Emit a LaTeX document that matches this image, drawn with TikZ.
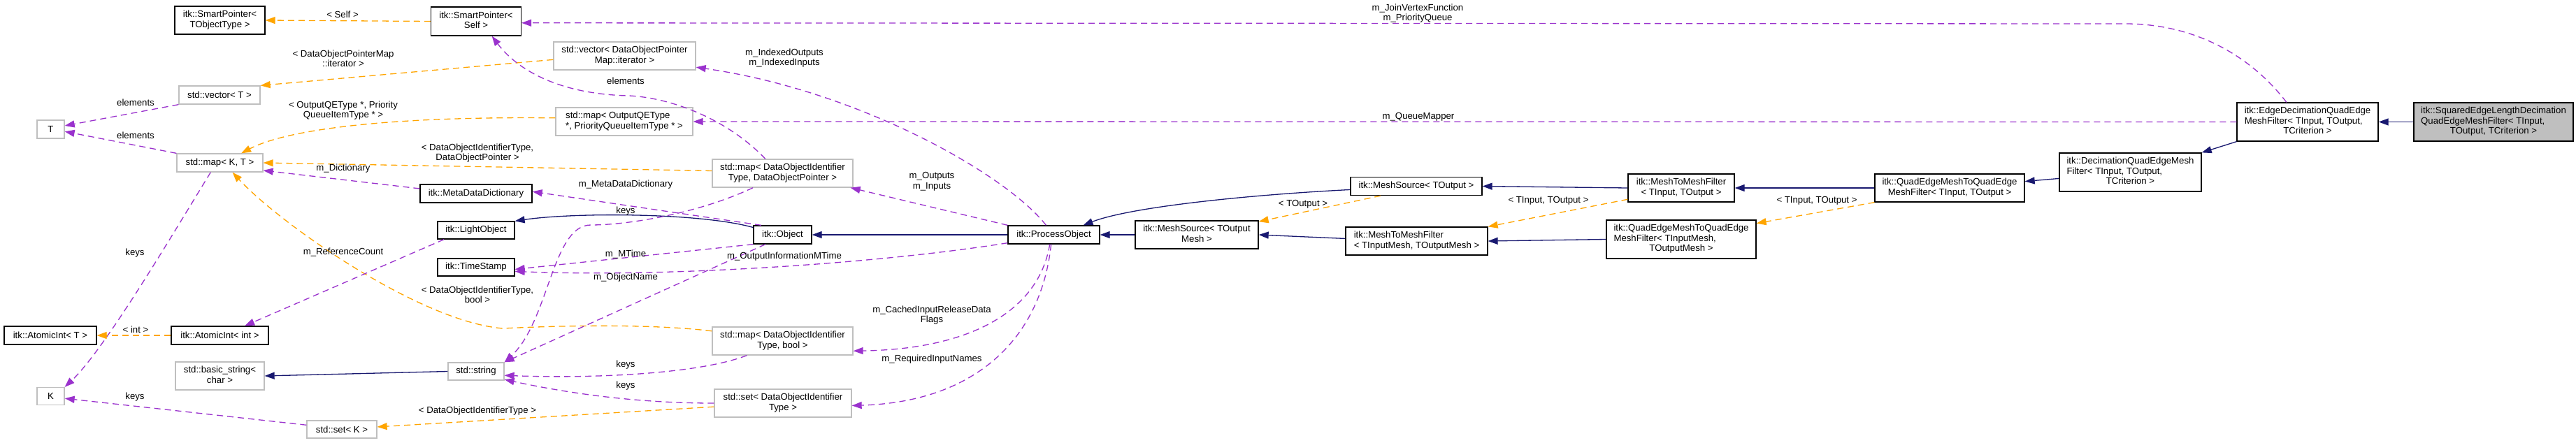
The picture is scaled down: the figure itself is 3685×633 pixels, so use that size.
\documentclass[tikz,border=0pt]{standalone}
\usepackage{fontspec}
\setmainfont{Liberation Sans}
\usetikzlibrary{arrows.meta}
\definecolor{inhc}{HTML}{191970}
\definecolor{usec}{HTML}{9A32CD}
\definecolor{tmplc}{HTML}{FFA500}
\definecolor{extgray}{HTML}{BFBFBF}
\newcommand{\LL}[2]{\begin{tabular}{@{}l@{}}#1\\\multicolumn{1}{@{}c@{}}{#2}\end{tabular}}
\begin{document}
\begin{tikzpicture}[x=1pt,y=-1pt,
  every node/.style={font=\fontsize{13.2}{14.5}\selectfont, inner sep=0pt},
  sz/.style 2 args={minimum width=#1pt, minimum height=#2pt},
  clsbox/.style={rectangle, draw=black, line width=1.3pt, fill=white},
  extbox/.style={rectangle, draw=extgray, line width=1.3pt, fill=white},
  curbox/.style={rectangle, draw=black, line width=1.3pt, fill=extgray},
  lbl/.style={align=center},
  tip/.style={-{Triangle[length=14pt,width=10pt]}},
  inhline/.style={color=inhc, line width=1.3pt, tip},
  useline/.style={color=usec, line width=1.3pt, dash pattern=on 9pt off 6pt, tip},
  tmplline/.style={color=tmplc, line width=1.3pt, dash pattern=on 9pt off 6pt, tip}]
\fill[white] (0,0) rectangle (3685,633);
\useasboundingbox (0,0) rectangle (3685,633);
% nodes
\node[clsbox, sz={129}{40}] (spT) at (314.5,29) {\LL{itk::SmartPointer<}{TObjectType >}};
\node[clsbox, sz={129}{41}] (spS) at (681,30.5) {\LL{itk::SmartPointer<}{Self >}};
\node[extbox, sz={116}{26}] (vecT) at (314,136) {std::vector< T >};
\node[extbox, sz={203}{40}] (vecD) at (893.5,80) {\LL{std::vector< DataObjectPointer}{Map::iterator >}};
\node[extbox, sz={39}{26}] (T) at (72.5,185) {T};
\node[extbox, sz={196}{40}] (mapQ) at (893,174) {\LL{std::map< OutputQEType}{*, PriorityQueueItemType * >}};
\node[extbox, sz={123}{26}] (mapKT) at (314.5,233) {std::map< K, T >};
\node[extbox, sz={201}{40}] (mapDP) at (1119.5,248) {\LL{std::map< DataObjectIdentifier}{Type, DataObjectPointer >}};
\node[clsbox, sz={160}{26}] (mdd) at (681,277) {itk::MetaDataDictionary};
\node[clsbox, sz={110}{25}] (light) at (681,329.5) {itk::LightObject};
\node[clsbox, sz={83}{26}] (obj) at (1119.5,336) {itk::Object};
\node[clsbox, sz={110}{25}] (ts) at (681,382.5) {itk::TimeStamp};
\node[clsbox, sz={131}{26}] (proc) at (1507.5,336) {itk::ProcessObject};
\node[clsbox, sz={176}{40}] (msTOM) at (1712,336) {\LL{itk::MeshSource< TOutput}{Mesh >}};
\node[clsbox, sz={188}{26}] (msTO) at (2026,266.5) {itk::MeshSource< TOutput >};
\node[clsbox, sz={152}{40}] (mtmTO) at (2405,269) {\LL{itk::MeshToMeshFilter}{< TInput, TOutput >}};
\node[clsbox, sz={203}{40}] (mtmM) at (2026.5,345) {\LL{itk::MeshToMeshFilter}{< TInputMesh, TOutputMesh >}};
\node[clsbox, sz={214}{40}] (qeTO) at (2789,269) {\LL{itk::QuadEdgeMeshToQuadEdge}{MeshFilter< TInput, TOutput >}};
\node[clsbox, sz={214}{55}] (qeM) at (2405,342.5) {\LL{itk::QuadEdgeMeshToQuadEdge\\MeshFilter< TInputMesh,}{TOutputMesh >}};
\node[clsbox, sz={203}{55}] (dec) at (3047.5,246.5) {\LL{itk::DecimationQuadEdgeMesh\\Filter< TInput, TOutput,}{TCriterion >}};
\node[clsbox, sz={202}{55}] (edec) at (3301,174.5) {\LL{itk::EdgeDecimationQuadEdge\\MeshFilter< TInput, TOutput,}{TCriterion >}};
\node[curbox, sz={228}{55}] (sq) at (3567,174.5) {\LL{itk::SquaredEdgeLengthDecimation\\QuadEdgeMeshFilter< TInput,}{TOutput, TCriterion >}};
\node[clsbox, sz={132}{26}] (aiT) at (72,480) {itk::AtomicInt< T >};
\node[clsbox, sz={139}{26}] (aiI) at (314.5,480) {itk::AtomicInt< int >};
\node[extbox, sz={201}{40}] (mapDB) at (1119.5,488) {\LL{std::map< DataObjectIdentifier}{Type, bool >}};
\node[extbox, sz={127}{40}] (bstr) at (314.5,538) {\LL{std::basic\_string<}{char >}};
\node[extbox, sz={80}{25}] (str) at (681,531.5) {std::string};
\node[extbox, sz={39}{25}] (K) at (72.5,567) {K};
\node[extbox, sz={196}{40}] (setDT) at (1120,577) {\LL{std::set< DataObjectIdentifier}{Type >}};
\node[extbox, sz={100}{25}] (setK) at (489,614.5) {std::set< K >};
% edges
\draw[tmplline] (spS.west) -- (spT.east);
\draw[tmplline] (vecD.183) -- (vecT.north east);
\draw[useline] (vecT.south west) -- (T.14);
\draw[useline] (mapKT.north west) -- (T.-9);
\draw[tmplline] (mapQ.177) .. controls (560,166) and (410,185) .. (mapKT.24);
\draw[tmplline] (mapDP.178) -- (mapKT.east);
\draw[useline] (mdd.175) -- (mapKT.-10);
\draw[tmplline] (mapDB.172) .. controls (930,463) and (800,466) .. (719,470) .. controls (600,460) and (400,320) .. (mapKT.-37);
\draw[useline] (mapKT.-134) .. controls (250,330) and (150,500) .. (K.north east);
\draw[useline] (setK.173) -- (K.-9);
\draw[tmplline] (setDT.183) -- (setK.4);
\draw[tmplline] (aiI.west) -- (aiT.east);
\draw[useline] (light.196) -- (aiI.21);
\draw[inhline] (str.west) -- (bstr.east);
\draw[inhline] (obj.166) .. controls (1000,304) and (820,304) .. (light.north east);
\draw[useline] (mapDP.206) .. controls (1000,305) and (900,322) .. (845,322) .. controls (790,322) and (785,460) .. (str.north east);
\draw[useline] (obj.209) -- (str.north east);
\draw[useline] (obj.south west) -- (ts.-3);
\draw[useline] (proc.190) .. controls (1250,378) and (950,397) .. (ts.-6);
\draw[useline] (mapDB.202) .. controls (1000,535) and (850,542) .. (str.-8);
\draw[useline] (setDT.west) .. controls (900,577) and (800,560) .. (str.-16);
\draw[useline] (obj.156) -- (mdd.2);
\draw[useline] (mapDP.140) .. controls (1040,170) and (960,140) .. (900,137) .. controls (800,135) and (740,100) .. (spS.-43);
\draw[useline] (edec.137) .. controls (3220,80) and (3140,34) .. (3040,34) -- (spS.-2);
\draw[useline] (edec.west) -- (mapQ.east);
\draw[useline] (proc.129) .. controls (1440,250) and (1230,130) .. (vecD.-9);
\draw[useline] (proc.north west) -- (mapDP.-12);
\draw[useline] (proc.-113) .. controls (1485,450) and (1380,500) .. (mapDB.-8);
\draw[useline] (proc.-106) .. controls (1490,480) and (1400,575) .. (setDT.-2);
\draw[inhline] (proc.west) -- (obj.east);
\draw[inhline] (msTOM.west) -- (proc.east);
\draw[inhline] (msTO.183) .. controls (1800,278) and (1620,295) .. (proc.18);
\draw[tmplline] (msTO.195) -- (msTOM.12);
\draw[inhline] (mtmM.178) -- (msTOM.east);
\draw[inhline] (mtmTO.west) -- (msTO.east);
\draw[tmplline] (mtmTO.192) -- (mtmM.north east);
\draw[inhline] (qeM.west) -- (mtmM.east);
\draw[inhline] (qeTO.west) -- (mtmTO.east);
\draw[tmplline] (qeTO.south west) -- (qeM.12);
\draw[inhline] (dec.185) -- (qeTO.5);
\draw[inhline] (edec.south west) -- (dec.north east);
\draw[inhline] (sq.west) -- (edec.east);
% labels
\node[lbl] (l1) at (490,21) {< Self >};
\node[lbl] (l2) at (491,84) {< DataObjectPointerMap\\::iterator >};
\node[lbl] (l3) at (194,147) {elements};
\node[lbl] (l4) at (194,194) {elements};
\node[lbl] (l5) at (491,158) {< OutputQEType *, Priority\\QueueItemType * >};
\node[lbl] (l6) at (491,241) {m\_Dictionary};
\node[lbl] (l7) at (193,362) {keys};
\node[lbl] (l8) at (491,361) {m\_ReferenceCount};
\node[lbl] (l9) at (194,472) {< int >};
\node[lbl] (l10) at (193,568) {keys};
\node[lbl] (l11) at (683,588) {< DataObjectIdentifierType >};
\node[lbl] (l12) at (1122,83) {m\_IndexedOutputs\\m\_IndexedInputs};
\node[lbl] (l13) at (895,116) {elements};
\node[lbl] (l14) at (683,219) {< DataObjectIdentifierType,\\DataObjectPointer >};
\node[lbl] (l15) at (895,264) {m\_MetaDataDictionary};
\node[lbl] (l16) at (895,302) {keys};
\node[lbl] (l17) at (895,364) {m\_MTime};
\node[lbl] (l18) at (1122,367) {m\_OutputInformationMTime};
\node[lbl] (l19) at (895,397) {m\_ObjectName};
\node[lbl] (l20) at (683,422) {< DataObjectIdentifierType,\\bool >};
\node[lbl] (l21) at (895,522) {keys};
\node[lbl] (l22) at (895,552) {keys};
\node[lbl] (l23) at (1333,260) {m\_Outputs\\m\_Inputs};
\node[lbl] (l24) at (1333,451) {m\_CachedInputReleaseData\\Flags};
\node[lbl] (l25) at (1333,514) {m\_RequiredInputNames};
\node[lbl] (l26) at (2028,19) {m\_JoinVertexFunction\\m\_PriorityQueue};
\node[lbl] (l27) at (2029,167) {m\_QueueMapper};
\node[lbl] (l28) at (1864,292) {< TOutput >};
\node[lbl] (l29) at (2215,287) {< TInput, TOutput >};
\node[lbl] (l30) at (2599,287) {< TInput, TOutput >};
\end{tikzpicture}
\end{document}
